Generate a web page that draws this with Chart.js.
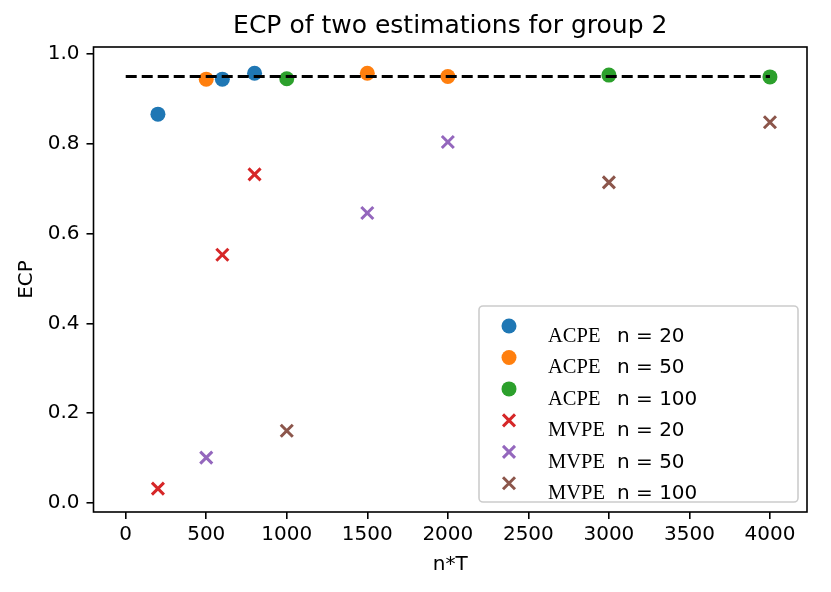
<!DOCTYPE html>
<html>
<head>
<meta charset="utf-8">
<script src="https://cdn.jsdelivr.net/npm/chart.js@4.4.1/dist/chart.umd.min.js"></script>
<style>
  html, body { margin: 0; padding: 0; background: #fff; }
  canvas { display: block; }
</style>
</head>
<body>
<canvas id="ecp" width="831" height="592"></canvas>
<script>
// n*T for each group size
const nT_n20 = [200, 600, 800];
const nT_n50 = [500, 1500, 2000];
const nT_n100 = [1000, 3000, 4000];

// ECP
const acpe_n20 = [0.866, 0.944, 0.957];
const acpe_n50 = [0.944, 0.957, 0.950];
const acpe_n100 = [0.945, 0.953, 0.949];

const mvpe_n20 = [0.032, 0.553, 0.732];
const mvpe_n50 = [0.101, 0.646, 0.804];
const mvpe_n100 = [0.161, 0.714, 0.848];

// nominal level, dashed
const nominal = 0.95;
const nominalFrom = 0;
const nominalTo = 4000;

const xTicks = [0, 500, 1000, 1500, 2000, 2500, 3000, 3500, 4000];
const yTicks = [0, 0.2, 0.4, 0.6, 0.8, 1.0];

const titleText = 'ECP of two estimations for group 2';
const methods = ['ACPE', 'ACPE', 'ACPE', 'MVPE', 'MVPE', 'MVPE'];
const groupSizes = [20, 50, 100, 20, 50, 100];
const colours = ['#1f77b4', '#ff7f0e', '#2ca02c', '#d62728', '#9467bd', '#8c564b'];

const xs = [nT_n20, nT_n50, nT_n100, nT_n20, nT_n50, nT_n100];
const ys = [acpe_n20, acpe_n50, acpe_n100, mvpe_n20, mvpe_n50, mvpe_n100];

function points(x, y) {
    return x.map((v, i) => ({ x: v, y: y[i] }));
}

const scatterSets = methods.map((m, i) => {
    const isCross = m === 'MVPE';
    return {
        type: 'scatter',
        label: m + ' n = ' + groupSizes[i],
        method: m,
        groupSize: groupSizes[i],
        data: points(xs[i], ys[i]),
        pointStyle: isCross ? 'crossRot' : 'circle',
        pointRadius: isCross ? 8.5 : 7.5,
        pointBorderWidth: isCross ? 3 : 0,
        backgroundColor: colours[i],
        borderColor: colours[i],
        order: 1
    };
});

const nominalLine = {
    type: 'line',
    label: 'nominal',
    data: [{ x: nominalFrom, y: nominal }, { x: nominalTo, y: nominal }],
    borderColor: '#000',
    borderWidth: 3,
    borderDash: [11, 5],
    pointRadius: 0,
    fill: false,
    order: 0
};

// full box round the axes + title centred over the axes (matplotlib style)
const frame = {
    id: 'frame',
    afterDatasetsDraw(chart) {
        const { ctx, chartArea: a } = chart;
        ctx.save();
        ctx.strokeStyle = '#000';
        ctx.lineWidth = 1.6;
        ctx.strokeRect(a.left, a.top, a.right - a.left, a.bottom - a.top);

        ctx.fillStyle = '#000';
        ctx.font = '25px "DejaVu Sans"';
        ctx.textAlign = 'center';
        ctx.textBaseline = 'alphabetic';
        ctx.fillText(titleText, (a.left + a.right) / 2, a.top - 14);
        ctx.restore();
    }
};

// legend in the lower right corner, serif method name + sans n
const insideLegend = {
    id: 'insideLegend',
    afterDraw(chart) {
        const { ctx, chartArea: a } = chart;
        const sets = chart.data.datasets.filter(d => d.method);
        const w = 319, h = 196;
        const bx = a.right - 9 - w;
        const by = a.bottom - 10 - h;
        const step = 31.46;

        ctx.save();
        ctx.beginPath();
        ctx.roundRect(bx, by, w, h, 4);
        ctx.fillStyle = 'rgba(255,255,255,0.8)';
        ctx.fill();
        ctx.strokeStyle = '#cccccc';
        ctx.lineWidth = 1.6;
        ctx.stroke();

        sets.forEach((d, i) => {
            const mx = bx + 30;
            const my = by + 20 + i * step;
            ctx.fillStyle = d.backgroundColor;
            ctx.strokeStyle = d.borderColor;
            if (d.pointStyle === 'circle') {
                ctx.beginPath();
                ctx.arc(mx, my, 7.5, 0, Math.PI * 2);
                ctx.fill();
            } else {
                ctx.lineWidth = 3;
                ctx.beginPath();
                ctx.moveTo(mx - 6, my - 6); ctx.lineTo(mx + 6, my + 6);
                ctx.moveTo(mx - 6, my + 6); ctx.lineTo(mx + 6, my - 6);
                ctx.stroke();
            }
            const base = by + 35.7 + i * step;
            ctx.fillStyle = '#000';
            ctx.textBaseline = 'alphabetic';
            ctx.textAlign = 'left';
            ctx.font = '20.5px "Liberation Serif"';
            ctx.fillText(d.method, bx + 69, base);
            ctx.font = '20px "DejaVu Sans"';
            ctx.fillText('n = ' + d.groupSize, bx + 138, base);
        });
        ctx.restore();
    }
};

Chart.defaults.font.family = '"DejaVu Sans"';
Chart.defaults.color = '#000';

const tickGrid = {
    display: true,
    drawOnChartArea: false,
    drawTicks: true,
    tickLength: 7,
    tickWidth: 1.6,
    tickColor: '#000',
    color: '#000',
    lineWidth: 1.6
};

new Chart(document.getElementById('ecp'), {
    type: 'scatter',
    data: { datasets: [nominalLine, ...scatterSets] },
    options: {
        responsive: false,
        animation: false,
        events: [],
        layout: { padding: { top: 47, right: 24, bottom: 0, left: 0 } },
        plugins: {
            legend: { display: false },
            tooltip: { enabled: false },
            title: { display: false }
        },
        scales: {
            x: {
                type: 'linear',
                position: 'bottom',
                min: -200,
                max: 4230,
                afterBuildTicks: s => { s.ticks = xTicks.map(v => ({ value: v })); },
                afterFit: s => { s.height = 80; },
                ticks: {
                    color: '#000',
                    font: { size: 20 },
                    padding: 4,
                    maxRotation: 0,
                    callback: v => String(v)
                },
                grid: tickGrid,
                border: { display: false },
                title: {
                    display: true,
                    text: 'n*T',
                    color: '#000',
                    font: { size: 20 },
                    padding: { top: 0, bottom: 15 }
                }
            },
            y: {
                type: 'linear',
                min: -0.02,
                max: 1.0156,
                afterBuildTicks: s => { s.ticks = yTicks.map(v => ({ value: v })); },
                afterFit: s => { s.width = 93.5; },
                ticks: {
                    color: '#000',
                    font: { size: 20 },
                    padding: 7,
                    callback: v => v.toFixed(1)
                },
                grid: tickGrid,
                border: { display: false },
                title: {
                    display: true,
                    text: 'ECP',
                    color: '#000',
                    font: { size: 20 },
                    padding: { top: 15, bottom: 0 }
                }
            }
        }
    },
    plugins: [frame, insideLegend]
});
</script>
</body>
</html>
